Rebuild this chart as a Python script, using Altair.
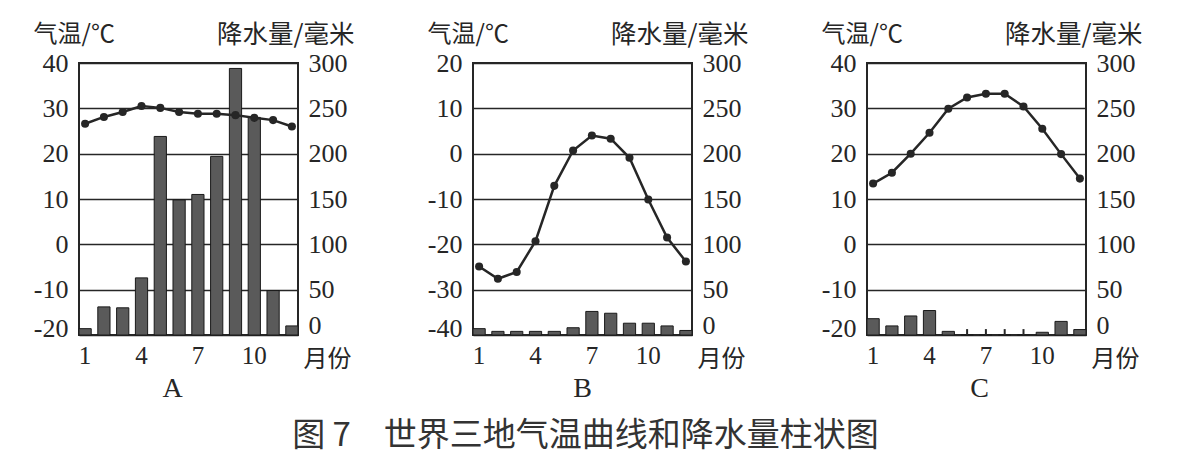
import altair as alt
import pandas as pd

months = list(range(1, 13))

temp_A = [26.6, 28.1, 29.2, 30.5, 30.1, 29.2, 28.8, 28.8, 28.5, 27.9, 27.4, 26.0]
prec_A = [7, 31, 30, 63, 219, 149, 155, 197, 294, 240, 49, 10]

temp_B = [-24.9, -27.6, -26.1, -19.3, -7.1, 0.7, 4.0, 3.3, -0.9, -10.1, -18.5, -23.8]
prec_B = [7, 4, 4, 4, 4, 8, 26, 24, 13, 13, 10, 5]

temp_C = [13.4, 15.8, 20.0, 24.6, 29.9, 32.4, 33.2, 33.2, 30.4, 25.5, 19.9, 14.5]
prec_C = [18, 10, 21, 27, 4, 0, 0, 0, 0, 3, 15, 6]

x_ticks = [1, 4, 7, 10]
panel_letters = ["A", "B", "C"]
temp_domains = [[-20, 40], [-40, 20], [-20, 40]]
prec_domain = [0, 300]
caption = "图 7\u3000世界三地气温曲线和降水量柱状图"

SERIF = "Liberation Serif, DejaVu Serif, serif"
CJK = "Noto Sans CJK SC, sans-serif"
INK = "#262626"

W, H = 219, 272


def panel(temp, prec, tdom, letter, dx):
    df = pd.DataFrame({"month": months, "temp": temp, "prec": prec})
    base = alt.Chart(df).encode(
        x=alt.X(
            "month:O",
            scale=alt.Scale(paddingInner=0.35, paddingOuter=0),
            axis=alt.Axis(
                values=x_ticks, labelAngle=0, ticks=False, domain=False,
                labelPadding=8, labelFont=SERIF, labelFontSize=25, labelColor=INK,
                title="月份", titleX=W + 5, titleY=24, titleAlign="left",
                titleBaseline="middle", titleFont=CJK, titleFontSize=24,
                titleFontWeight="normal", titleColor=INK,
            ),
        )
    )
    bars = base.mark_bar(fill="#5a5a5a", stroke="#1a1a1a", strokeWidth=1).encode(
        y=alt.Y(
            "prec:Q",
            scale=alt.Scale(domain=prec_domain, nice=False),
            axis=alt.Axis(
                orient="right", values=list(range(0, 301, 50)), grid=False,
                ticks=False, domain=False, labelPadding=10, labelFont=SERIF,
                labelFontSize=26, labelColor=INK,
                labelOffset={"condition": {"test": "datum.value == 0", "value": -10}, "value": 0},
                title="降水量/毫米", titleAngle=0, titleX=56, titleY=-29,
                titleAlign="right", titleBaseline="middle", titleFont=CJK,
                titleFontSize=25.5, titleFontWeight="normal", titleColor=INK,
            ),
        )
    )
    zero_ticks = base.transform_filter("datum.prec == 0").mark_rule(
        color=INK, strokeWidth=2
    ).encode(y=alt.Y("prec:Q"), y2=alt.datum(6.5))

    line = base.mark_line(
        color=INK, strokeWidth=2.5,
        point=alt.OverlayMarkDef(filled=True, color=INK, size=65),
    ).encode(
        y=alt.Y(
            "temp:Q",
            scale=alt.Scale(domain=tdom, nice=False),
            axis=alt.Axis(
                orient="left", values=list(range(tdom[0], tdom[1] + 1, 10)),
                grid=True, gridColor=INK, gridWidth=1.5, ticks=False,
                domain=False, labelPadding=11, labelFont=SERIF,
                labelFontSize=26, labelColor=INK,
                labelExpr="'' + datum.value",
                labelOffset={"condition": {"test": f"datum.value == {tdom[0]}", "value": -7}, "value": 0},
                title="气温/℃", titleAngle=0, titleX=-46, titleY=-29,
                titleAlign="left", titleBaseline="middle", titleFont=CJK,
                titleFontSize=24, titleFontWeight="normal", titleColor=INK,
            ),
        )
    )
    return (
        alt.layer(alt.layer(bars, zero_ticks), line)
        .resolve_scale(y="independent")
        .properties(
            width=W, height=H,
            title=alt.TitleParams(
                letter, orient="bottom", anchor="middle", fontSize=28,
                font=SERIF, fontWeight="normal", color=INK, offset=4, dx=dx,
            ),
        )
    )


pA = panel(temp_A, prec_A, temp_domains[0], panel_letters[0], -16)
pB = panel(temp_B, prec_B, temp_domains[1], panel_letters[1], 0)
pC = panel(temp_C, prec_C, temp_domains[2], panel_letters[2], 3)

chart = (
    alt.hconcat(pA, pB, pC, spacing=175, bounds="flush")
    .properties(
        padding={"left": 24, "top": 13, "right": 5, "bottom": 0},
        background="white",
        title=alt.TitleParams(
            caption, orient="bottom", anchor="middle", fontSize=33,
            font=CJK, fontWeight="normal", color="#333333", offset=16, dx=-2,
        ),
    )
    .configure_view(stroke=INK, strokeWidth=2)
)

chart.save("out.html", embed_options={"renderer": "svg", "actions": False})
